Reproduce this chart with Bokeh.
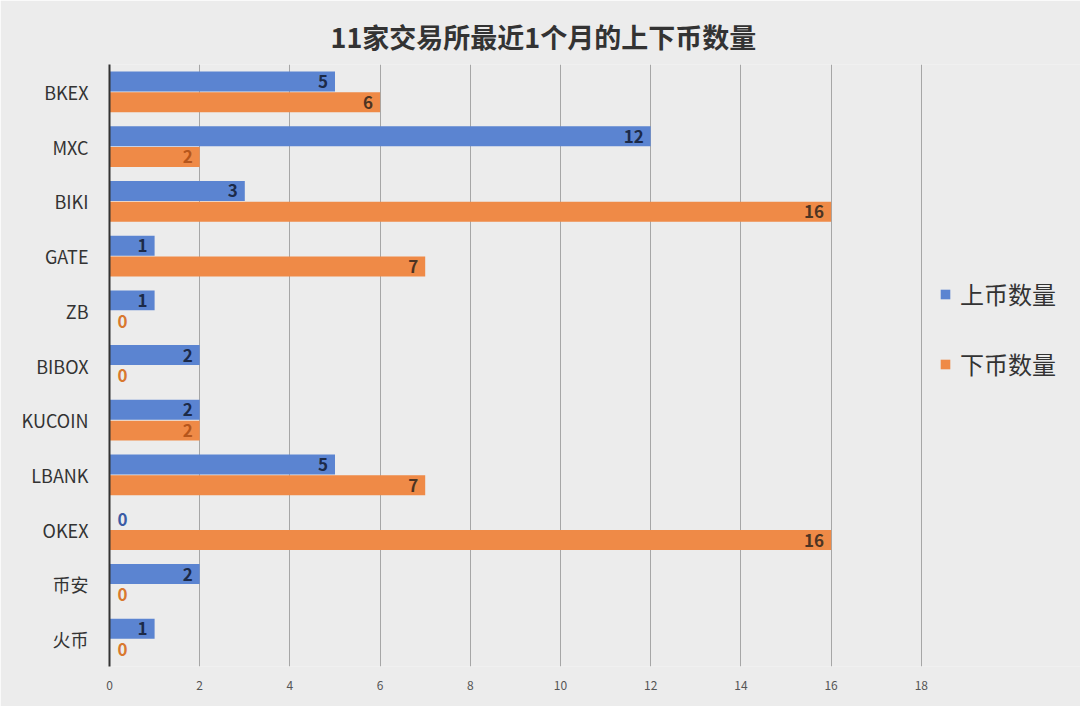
from bokeh.core.properties import value
from bokeh.embed import file_html
from bokeh.models import (ColumnDataSource, FactorRange, FixedTicker, Legend,
                          LegendItem, Range1d)
from bokeh.plotting import figure
from bokeh.resources import INLINE
from bokeh.transform import dodge

exchanges = ["BKEX", "MXC", "BIKI", "GATE", "ZB", "BIBOX", "KUCOIN",
             "LBANK", "OKEX", "币安", "火币"]
listed = [5, 12, 3, 1, 1, 2, 2, 5, 0, 2, 1]
delisted = [6, 2, 16, 7, 0, 0, 2, 7, 16, 0, 0]
x_ticks = [0, 2, 4, 6, 8, 10, 12, 14, 16, 18]
series_names = ["上币数量", "下币数量"]
title_text = "11家交易所最近1个月的上下币数量"

FONT = "Noto Sans CJK SC"
BLUE = "#5b84d1"
ORANGE = "#ef8a47"
BG = "#ececec"


def label_columns(values, dark, light, zero):
    colors, aligns, offsets = [], [], []
    for v in values:
        if v == 0:
            colors.append(zero)
            aligns.append("left")
            offsets.append(8)
        else:
            colors.append(dark if v > 2 else light)
            aligns.append("right")
            offsets.append(-7)
    return colors, aligns, offsets


b_col, b_align, b_off = label_columns(listed, "#1c2a48", "#1c2a48", "#3b5ba5")
o_col, o_align, o_off = label_columns(delisted, "#4d3422", "#b5561c", "#d9782e")

source = ColumnDataSource(data=dict(
    cat=exchanges, listed=listed, delisted=delisted,
    listed_txt=[str(v) for v in listed], delisted_txt=[str(v) for v in delisted],
    b_col=b_col, b_align=b_align, b_off=b_off,
    o_col=o_col, o_align=o_align, o_off=o_off,
))

p = figure(width=1080, height=706, output_backend="svg", toolbar_location=None,
           y_range=FactorRange(factors=list(reversed(exchanges))),
           x_range=Range1d(0, 21.53),
           min_border_left=109, min_border_right=0,
           min_border_top=64, min_border_bottom=40)
p.background_fill_color = BG
p.border_fill_color = BG
p.outline_line_color = None

p.title.text = title_text
p.title.text_font = FONT
p.title.text_font_size = "27px"
p.title.text_font_style = "bold"
p.title.text_color = "#333333"
p.title.align = "left"
p.title.offset = 221
p.title.standoff = 18

offset = 0.19
bar_h = 0.365
r_b = p.hbar(y=dodge("cat", offset, range=p.y_range), right="listed", left=0,
             height=bar_h, source=source, color=BLUE, line_color=None)
r_o = p.hbar(y=dodge("cat", -offset, range=p.y_range), right="delisted", left=0,
             height=bar_h, source=source, color=ORANGE, line_color=None)

p.text(x="listed", y=dodge("cat", offset, range=p.y_range), text="listed_txt",
       source=source, text_color="b_col", text_align="b_align", x_offset="b_off",
       text_baseline="middle", text_font=value(FONT), text_font_size="17px",
       text_font_style="bold")
p.text(x="delisted", y=dodge("cat", -offset, range=p.y_range), text="delisted_txt",
       source=source, text_color="o_col", text_align="o_align", x_offset="o_off",
       text_baseline="middle", text_font=value(FONT), text_font_size="17px",
       text_font_style="bold")

# axes
p.xaxis.ticker = FixedTicker(ticks=x_ticks)
p.xaxis.axis_line_color = None
p.xaxis.major_tick_line_color = None
p.xaxis.minor_tick_line_color = None
p.xaxis.major_label_text_font = FONT
p.xaxis.major_label_text_font_size = "12px"
p.xaxis.major_label_text_color = "#555555"
p.xaxis.major_label_standoff = 8

p.yaxis.axis_line_color = "#333333"
p.yaxis.axis_line_width = 2
p.yaxis.major_tick_line_color = None
p.yaxis.minor_tick_line_color = None
p.yaxis.major_label_text_font = FONT
p.yaxis.major_label_text_font_size = "18px"
p.yaxis.major_label_text_color = "#333333"
p.yaxis.major_label_standoff = 15

p.xgrid.grid_line_color = "#a6a6a6"
p.xgrid.grid_line_width = 1
p.ygrid.grid_line_color = None

legend = Legend(items=[LegendItem(label=series_names[0], renderers=[r_b]),
                       LegendItem(label=series_names[1], renderers=[r_o])],
                location=(830, 285), orientation="vertical")
legend.label_text_font = FONT
legend.label_text_font_size = "24px"
legend.label_text_color = "#333333"
legend.glyph_width = 12
legend.glyph_height = 12
legend.label_standoff = 9
legend.spacing = 35
legend.padding = 0
legend.margin = 0
legend.border_line_color = None
legend.background_fill_alpha = 0
p.add_layout(legend)

open("out.html", "w").write(file_html(p, INLINE))
